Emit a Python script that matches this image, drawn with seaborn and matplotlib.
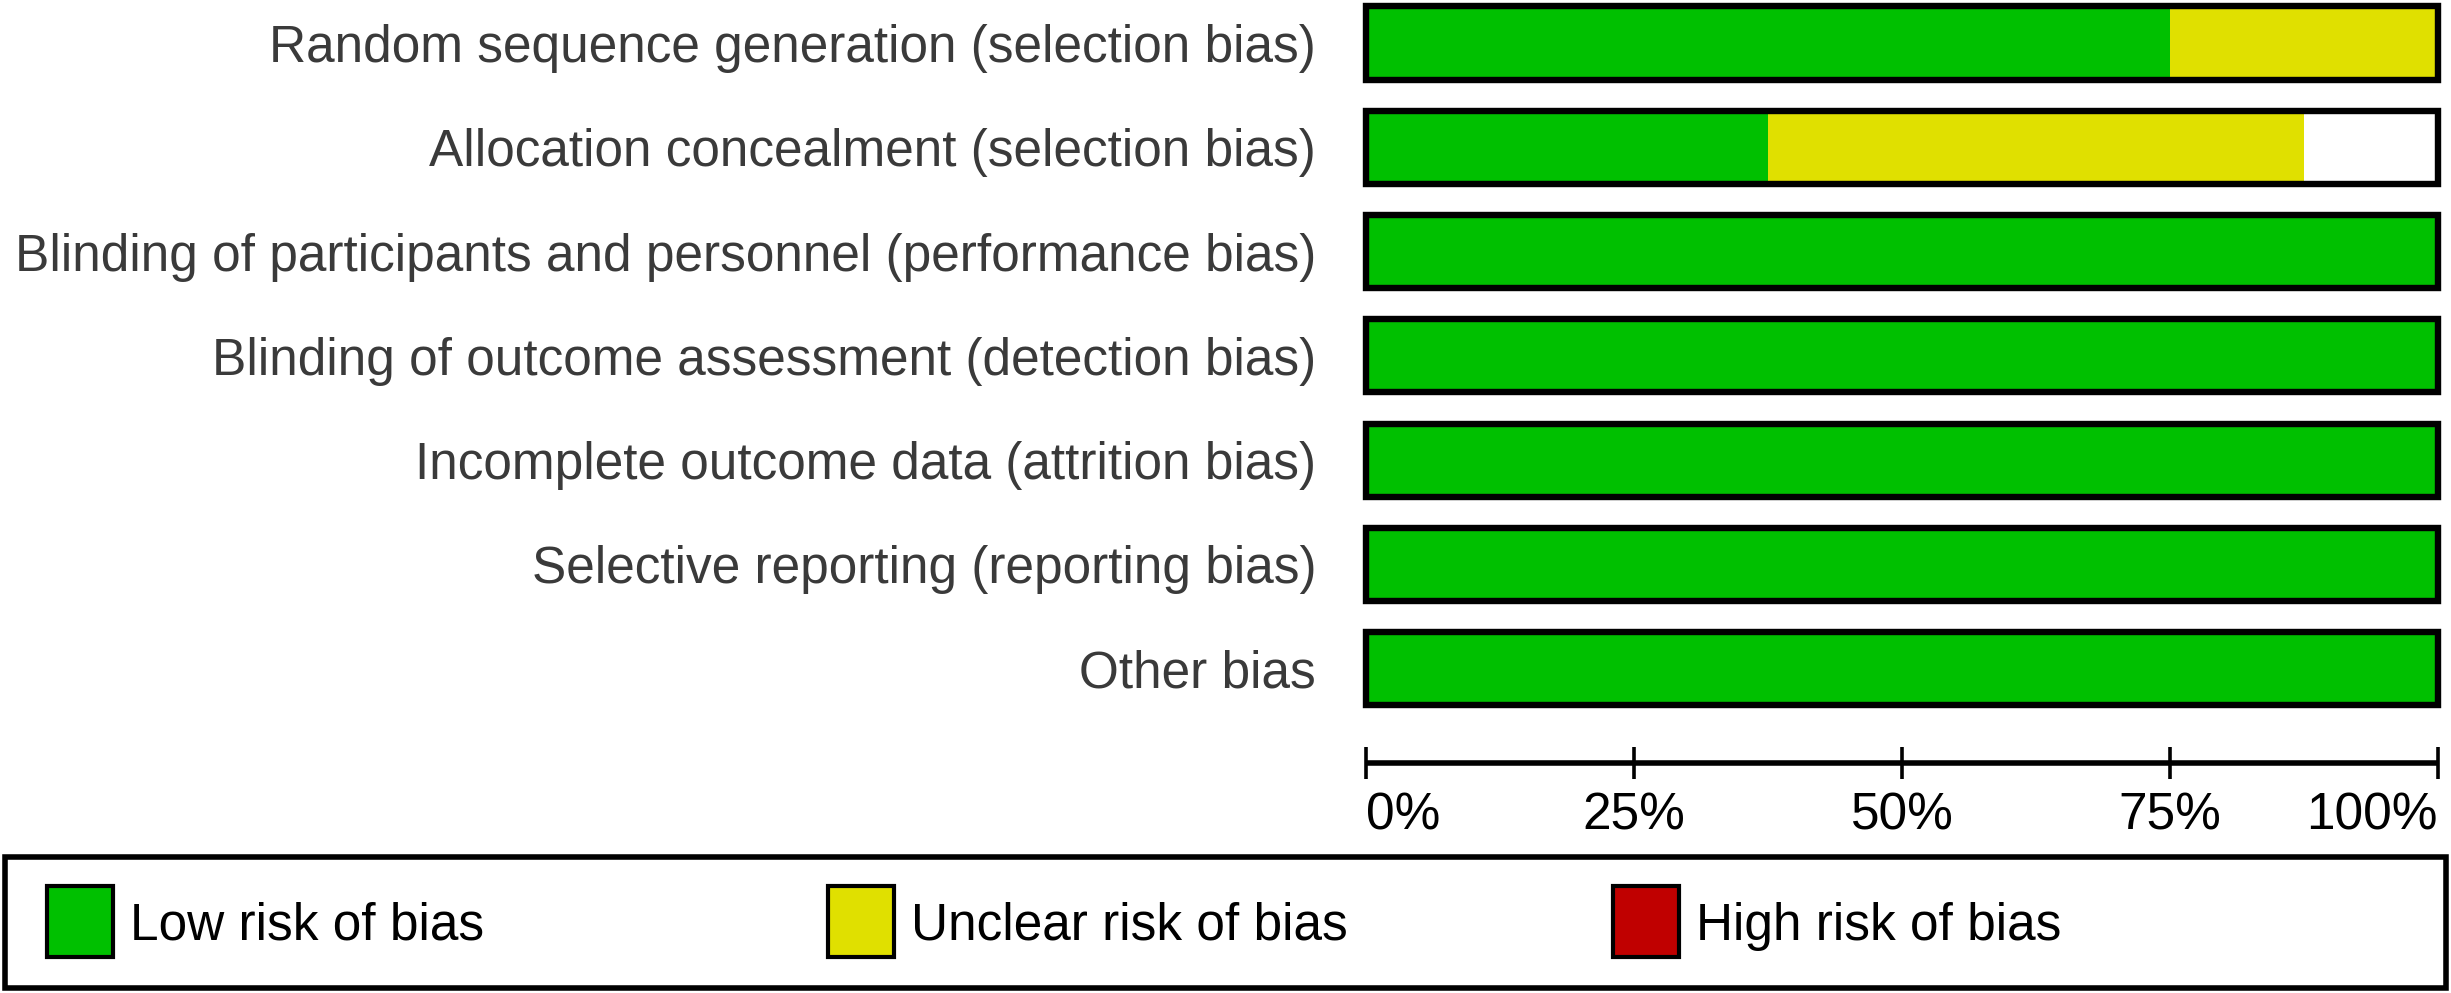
import matplotlib
matplotlib.use("Agg")
import matplotlib.pyplot as plt
from matplotlib.patches import Rectangle
import seaborn as sns
import pandas as pd

# ---- data ----
domains = [
    "Random sequence generation (selection bias)",
    "Allocation concealment (selection bias)",
    "Blinding of participants and personnel (performance bias)",
    "Blinding of outcome assessment (detection bias)",
    "Incomplete outcome data (attrition bias)",
    "Selective reporting (reporting bias)",
    "Other bias",
]
low_risk = [75.0, 37.5, 100, 100, 100, 100, 100]
unclear_risk = [25.0, 50.0, 0, 0, 0, 0, 0]
high_risk = [0, 0, 0, 0, 0, 0, 0]
tick_values = [0, 25, 50, 75, 100]
tick_labels = ["0%", "25%", "50%", "75%", "100%"]
legend_labels = ["Low risk of bias", "Unclear risk of bias", "High risk of bias"]
colors = ["#00C000", "#E0E000", "#C00000"]

df = pd.DataFrame({"domain": domains, "low": low_risk,
                   "unclear": unclear_risk, "high": high_risk})
df["cum_unclear"] = df["low"] + df["unclear"]
df["cum_high"] = df["cum_unclear"] + df["high"]
df["total"] = 100

sns.set_style("white")
plt.rcParams["font.family"] = ["Liberation Sans", "DejaVu Sans"]

W, H = 2451, 993
fig = plt.figure(figsize=(W / 100, H / 100), dpi=100)


def fx(px):
    return px / W


def fy(py):
    return 1 - py / H


# main axes geometry (pixels)
x0, x1 = 1366, 2438
unit = 104.3
y_first_center = 4 + 78 / 2  # pixel of row 0 centre
ytop_val, ybot_val = -0.4, 6.9
ptop = y_first_center + (ytop_val - 0) * unit
pbot = y_first_center + (ybot_val - 0) * unit
ax = fig.add_axes([fx(x0), fy(pbot), fx(x1) - fx(x0), (pbot - ptop) / H])

bw = 0.70
sns.barplot(data=df, x="cum_high", y="domain", orient="h", color=colors[2],
            width=bw, linewidth=0, ax=ax, saturation=1)
sns.barplot(data=df, x="cum_unclear", y="domain", orient="h", color=colors[1],
            width=bw, linewidth=0, ax=ax, saturation=1)
sns.barplot(data=df, x="low", y="domain", orient="h", color=colors[0],
            width=bw, linewidth=0, ax=ax, saturation=1)
n_before = len(ax.patches)
sns.barplot(data=df, x="total", y="domain", orient="h", color="white",
            width=bw, linewidth=4.6, edgecolor="black", ax=ax, saturation=1)
for p in ax.patches[n_before:]:
    p.set_facecolor("none")
    p.set_zorder(5)
    p.set_clip_on(False)
for p in ax.patches[:n_before]:
    p.set_clip_on(False)

ax.set_xlim(0, 100)
ax.set_ylim(ybot_val, ytop_val)
ax.set_xlabel("")
ax.set_ylabel("")
for s in ["top", "right", "left"]:
    ax.spines[s].set_visible(False)
ax.spines["bottom"].set_linewidth(4.0)
ax.spines["bottom"].set_color("black")
ax.spines["bottom"].set_capstyle("butt")
ax.grid(False)

ax.tick_params(axis="y", left=False, length=0, pad=36, labelsize=37.0,
               labelcolor="#3a3a3a")
ax.set_xticks(tick_values)
ax.set_xticklabels(tick_labels)
ax.tick_params(axis="x", bottom=True, direction="inout", length=23, width=2.6,
               color="black", labelsize=37.0, labelcolor="black", pad=9)
xl = ax.get_xticklabels()
xl[0].set_ha("left")
xl[-1].set_ha("right")

# ---- legend ----
fig.add_artist(Rectangle((fx(5), fy(988)), fx(2446) - fx(5), (988 - 857) / H,
                         transform=fig.transFigure, facecolor="none",
                         edgecolor="black", linewidth=4.0))
patch_x = [47, 828, 1613]
for lab, col, px in zip(legend_labels, colors, patch_x):
    fig.add_artist(Rectangle((fx(px), fy(957)), (66) / W, (957 - 886) / H,
                             transform=fig.transFigure, facecolor=col,
                             edgecolor="black", linewidth=3.0))
    fig.text(fx(px + 83), fy(921), lab, ha="left", va="center_baseline",
             fontsize=37.0, color="black")

fig.savefig("out.png", dpi=100)
